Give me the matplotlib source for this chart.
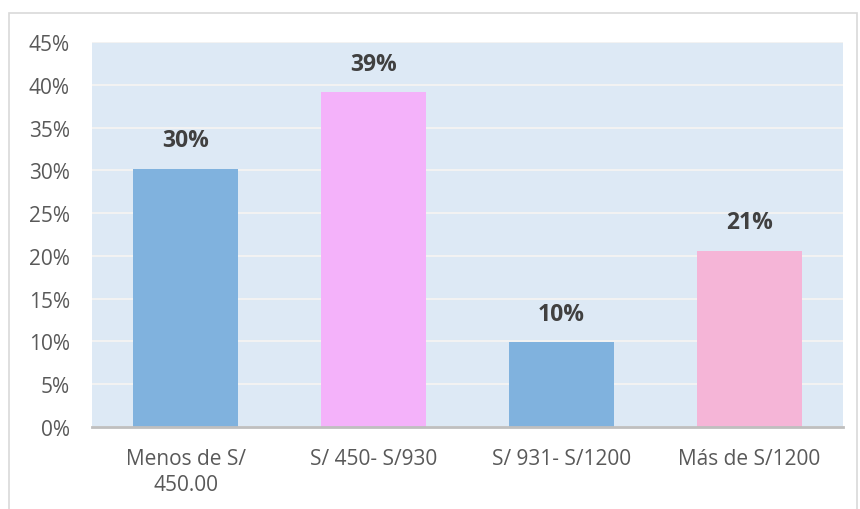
import numpy as np
import matplotlib.pyplot as plt
from matplotlib.patches import Rectangle

# data
categorias = ['Menos de S/\n450.00', 'S/ 450- S/930', 'S/ 931- S/1200', 'Más de S/1200']
valores = [30.2, 39.1, 9.9, 20.6]
etiquetas = ['30%', '39%', '10%', '21%']
colores = ['#80B2DE', '#F4B2FA', '#80B2DE', '#F5B5D7']

plt.rcParams['font.family'] = ['Open Sans', 'DejaVu Sans']

fig = plt.figure(figsize=(8.6, 5.1), dpi=100)
# light gray frame round the chart
fig.patches.append(Rectangle((9/860, -0.01), 848/860, 1 - 14/510 + 0.01, transform=fig.transFigure,
                             fill=False, edgecolor='#D9D9D9', linewidth=1.2))
ax = fig.add_axes([92/860, 1 - 428/510, 751/860, 385/510])
ax.set_facecolor('#DDE9F5')

x = np.arange(len(categorias))
ax.bar(x, valores, width=0.56, color=colores, zorder=3)

# value labels above the bars
for xi, v, t in zip(x, valores, etiquetas):
    ax.text(xi, v + 1.9, t, ha='center', va='bottom', fontsize=16.5,
            fontweight='bold', color='#404040')

ax.set_xlim(-0.5, len(categorias) - 0.5)
ax.set_ylim(0, 45)
ax.set_yticks(np.arange(0, 46, 5))
ax.set_yticklabels([f'{v}%' for v in range(0, 46, 5)])
ax.set_xticks(x)
ax.set_xticklabels(categorias, linespacing=1.3)
ax.tick_params(axis='both', length=0, labelsize=15, colors='#595959')
ax.tick_params(axis='y', pad=16)
ax.tick_params(axis='x', pad=15)
ax.grid(axis='y', color='#F2F2F2', linewidth=1.5, zorder=1)
for s in ['top', 'right', 'left']:
    ax.spines[s].set_visible(False)
ax.spines['bottom'].set_color('#BFBFBF')
ax.spines['bottom'].set_linewidth(2)
ax.spines['bottom'].set_zorder(4)

plt.savefig('out.png', dpi=100)
